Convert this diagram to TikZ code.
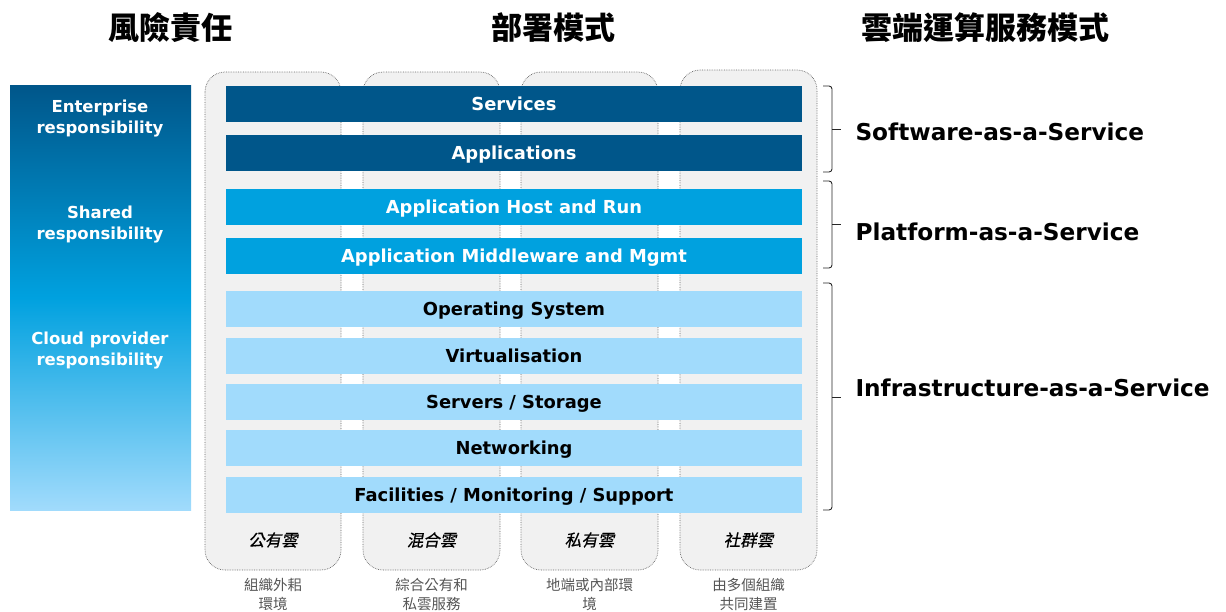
\documentclass[tikz,border=0pt]{standalone}
\usepackage{fontspec}
\setmainfont{DejaVu Sans}
\newfontfamily\cjk{Noto Sans CJK TC}
\newfontfamily\cjkslant[FakeSlant=0.2, FakeBold=0.6]{Noto Sans CJK TC}
\definecolor{darkbar}{HTML}{00568A}
\definecolor{midbar}{HTML}{00A1DF}
\definecolor{lightbar}{HTML}{A1DBFC}
\definecolor{colfill}{HTML}{F1F1F1}
\definecolor{colline}{HTML}{666666}
\definecolor{subtext}{HTML}{555555}
\tikzset{
  layer/.style={minimum width=576pt, minimum height=36pt, inner sep=0pt, text depth=0pt,
                font=\bfseries\fontsize{17.9}{20}\selectfont},
  darklayer/.style={layer, fill=darkbar, text=white},
  midlayer/.style={layer, fill=midbar, text=white},
  lightlayer/.style={layer, fill=lightbar, text=black},
  column/.style={fill=colfill, draw=colline, densely dotted, line width=0.7pt, rounded corners=20pt},
  heading/.style={font=\cjk\bfseries\fontsize{31}{34}\selectfont},
  resp/.style={text=white, align=center, font=\bfseries\fontsize{16.5}{21}\selectfont},
  deploy/.style={font=\cjkslant\fontsize{16.5}{18}\selectfont},
  deploynote/.style={text=subtext, align=center, font=\cjk\fontsize{14.5}{19}\selectfont},
  bracket/.style={draw=black!85, line width=0.9pt, rounded corners=3pt},
  model/.style={anchor=west, font=\bfseries\fontsize{23.2}{26}\selectfont}
}
\begin{document}
\begin{tikzpicture}[x=1pt, y=-1pt]
\useasboundingbox (0,0) rectangle (1226,611);

% headings
\node[heading] (h1) at (170,28) {風險責任};
\node[heading] (h2) at (553,28) {部署模式};
\node[heading] (h3) at (985,28) {雲端運算服務模式};

% responsibility bar
\shade[top color=darkbar, bottom color=lightbar, middle color=midbar] (10,85) rectangle (191,510);
\node[resp] (r1) at (100,119) {Enterprise\\responsibility};
\node[resp] (r2) at (100,225) {Shared\\responsibility};
\node[resp] (r3) at (100,351) {Cloud provider\\responsibility};

% deployment columns
\draw[column] (205,72) rectangle (341,570);
\draw[column] (363,72) rectangle (500,570);
\draw[column] (521,72) rectangle (658,570);
\draw[column] (680,70) rectangle (817,570);

% stack layers
\node[darklayer]  (l1) at (514,104)   {Services};
\node[darklayer]  (l2) at (514,153)   {Applications};
\node[midlayer]   (l3) at (514,207)   {Application Host and Run};
\node[midlayer]   (l4) at (514,255.5) {Application Middleware and Mgmt};
\node[lightlayer] (l5) at (514,309)   {Operating System};
\node[lightlayer] (l6) at (514,355.5) {Virtualisation};
\node[lightlayer] (l7) at (514,401.5) {Servers / Storage};
\node[lightlayer] (l8) at (514,448)   {Networking};
\node[lightlayer] (l9) at (514,494.5) {Facilities / Monitoring / Support};

% deployment models
\node[deploy] (d1) at (273,540)   {公有雲};
\node[deploy] (d2) at (431.5,540) {混合雲};
\node[deploy] (d3) at (589.5,540) {私有雲};
\node[deploy] (d4) at (748.5,540) {社群雲};
\node[deploynote] (n1) at (273,594)   {組織外耜\\環境};
\node[deploynote] (n2) at (431.5,594) {綜合公有和\\私雲服務};
\node[deploynote] (n3) at (589.5,594) {地端或內部環\\境};
\node[deploynote] (n4) at (748.5,594) {由多個組織\\共同建置};

% service model brackets
\draw[bracket] (823,86) -- (832,86) -- (832,172) -- (823,172);
\draw[bracket] (832,129) -- (841,129);
\draw[bracket] (823,181) -- (832,181) -- (832,268) -- (823,268);
\draw[bracket] (832,224) -- (841,224);
\draw[bracket] (823,283) -- (832,283) -- (832,510) -- (823,510);
\draw[bracket] (832,397) -- (841,397);
\node[model] (m1) at (852,132) {Software-as-a-Service};
\node[model] (m2) at (852,232) {Platform-as-a-Service};
\node[model] (m3) at (852,388) {Infrastructure-as-a-Service};
\end{tikzpicture}
\end{document}
